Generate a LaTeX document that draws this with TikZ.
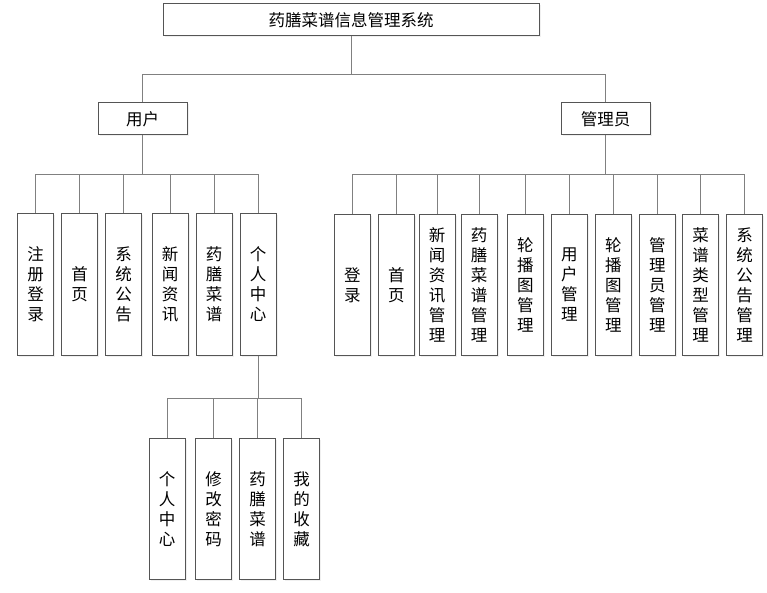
\documentclass[tikz,border=0pt]{standalone}
\usepackage{fontspec}
\newfontfamily\cjk{Noto Sans CJK SC}
\usepackage{tikz}
\usetikzlibrary{shadows}
\definecolor{boxline}{HTML}{555555}
\definecolor{linkline}{HTML}{808080}
\tikzset{
  sysbox/.style   = {draw=boxline, line width=1pt, fill=white,
                     minimum width=376pt, minimum height=32pt, inner sep=0pt,
                     font=\cjk\fontsize{16.5}{20}\selectfont,
                     drop shadow={opacity=0.12, shadow xshift=1.5pt, shadow yshift=-1.5pt}},
  rolebox/.style  = {sysbox, minimum width=89pt},
  funcbox/.style  = {sysbox, minimum width=36pt, minimum height=141pt, align=center},
  link/.style     = {linkline, line width=1pt}
}

\begin{document}
\begin{tikzpicture}[x=1pt,y=-1pt]
  \useasboundingbox (0,0) rectangle (767,593);
  \node[sysbox] (sys) at (351,20) {药膳菜谱信息管理系统};
  \node[rolebox] (user) at (142.5,119) {用户};
  \node[rolebox] (admin) at (605.5,119) {管理员};
  % bus heights for the three levels of branches
  \coordinate (bus0) at (0,75);
  \coordinate (bus1) at (0,175);
  \coordinate (bus2) at (0,398);
  \foreach \c in {user,admin} { \draw[link] (sys.south) -- (sys.south |- bus0) -| (\c.north); }
  % user side
  \foreach \n/\x/\t in {u1/35.5/注\\册\\登\\录, u2/79.5/首\\页, u3/123.5/系\\统\\公\\告,
        u4/170/新\\闻\\资\\讯, u5/214/药\\膳\\菜\\谱, u6/258/个\\人\\中\\心} {
    \node[funcbox] (\n) at (\x,284.5) {\t};
    \draw[link] (user.south) -- (user.south |- bus1) -| (\n.north);
  }
  % admin side
  \foreach \n/\x/\t in {a1/352.3/登\\录, a2/396.3/首\\页, a3/437.2/新\\闻\\资\\讯\\管\\理,
        a4/479/药\\膳\\菜\\谱\\管\\理, a5/525.3/轮\\播\\图\\管\\理, a6/569.3/用\\户\\管\\理,
        a7/613.3/轮\\播\\图\\管\\理, a8/657.3/管\\理\\员\\管\\理,
        a9/700.7/菜\\谱\\类\\型\\管\\理, a10/744.7/系\\统\\公\\告\\管\\理} {
    \node[funcbox] (\n) at (\x,285) {\t};
    \draw[link] (admin.south) -- (admin.south |- bus1) -| (\n.north);
  }
  % personal centre
  \foreach \n/\x/\t in {p1/167/个\\人\\中\\心, p2/213.7/修\\改\\密\\码,
        p3/257.7/药\\膳\\菜\\谱, p4/301.7/我\\的\\收\\藏} {
    \node[funcbox] (\n) at (\x,509) {\t};
    \draw[link] (u6.south) -- (u6.south |- bus2) -| (\n.north);
  }
\end{tikzpicture}
\end{document}
